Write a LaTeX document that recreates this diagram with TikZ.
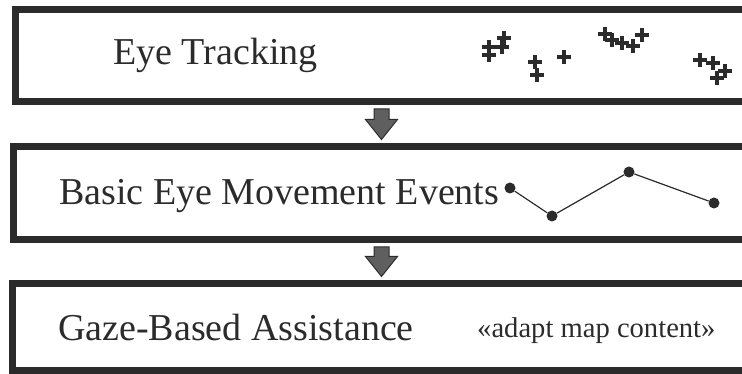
\documentclass[tikz,border=0pt]{standalone}
\usepackage{fontspec}
\setmainfont{Liberation Serif}
\usetikzlibrary{calc}

\definecolor{ink}{HTML}{2B2B2B}
\definecolor{arrowgray}{HTML}{5F5F5F}

\newcommand{\stagearrow}[2]{%
  \filldraw[draw=ink, fill=arrowgray, line width=1pt]
    ($(#1)+(-7.5,0)$) -- ($(#2)+(-7.5,-20)$) -- ($(#2)+(-16,-20)$) -- (#2)
    -- ($(#2)+(16,-20)$) -- ($(#2)+(7.5,-20)$) -- ($(#1)+(7.5,0)$) -- cycle;}

\begin{document}
\begin{tikzpicture}[x=1pt, y=-1pt,
    stage/.style={draw=ink, line width=7pt, inner sep=0pt, minimum width=760pt},
    label/.style={anchor=base west, inner sep=0pt, text=ink, font=\fontsize{38}{40}\selectfont},
    plus/.style={draw=ink, line width=3.6pt},
    dot/.style={fill=ink, circle, inner sep=0pt, minimum size=11pt}]
        \clip (0,0) rectangle (742,374);

        \node[stage, minimum height=92pt] (track) at (395,56) {};
        \node[stage, minimum height=93.5pt] (events) at (393,193.25) {};
        \node[stage, minimum height=86.5pt] (assist) at (392,326.75) {};

        \node[label] (tracktext) at (113,65) {Eye Tracking};
        \node[label] (eventtext) at (59,205) {Basic Eye Movement Events};
        \node[label] (assisttext) at (58,340) {Gaze-Based Assistance};
        \node[label, font=\fontsize{28.6}{30}\selectfont] (adapttext) at (477,337) {«adapt map content»};

        \foreach \px/\py in {489/47, 489/55, 502/47, 504/38, 535/62, 537/75, 564/57,
                             605/34, 612/40, 622/43, 633/46, 642/35,
                             700/60, 713/63, 725/71, 717/78}
            \draw[plus] (\px-7,\py) -- ++(14,0) (\px,\py-7) -- ++(0,14);

        \node[dot] (p1) at (510,188) {};
        \node[dot] (p2) at (552,216) {};
        \node[dot] (p3) at (629,172) {};
        \node[dot] (p4) at (714,203) {};
        \draw[ink, line width=1.2pt] (p1) -- (p2) -- (p3) -- (p4);

        \coordinate (ax) at (381.5,0);
        \coordinate (a1top) at ($(track.south -| ax)+(0,3.5)$);
        \coordinate (a1tip) at ($(events.north -| ax)+(0,-3.5)$);
        \coordinate (a2top) at ($(events.south -| ax)+(0,3.5)$);
        \coordinate (a2tip) at ($(assist.north -| ax)+(0,-3.5)$);
        \stagearrow{a1top}{a1tip}
        \stagearrow{a2top}{a2tip}
\end{tikzpicture}
\end{document}
